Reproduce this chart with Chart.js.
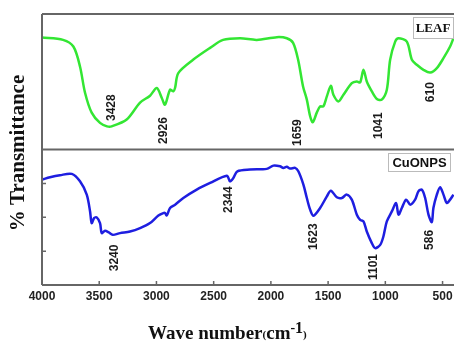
<!DOCTYPE html>
<html><head><meta charset="utf-8">
<script src="https://cdn.jsdelivr.net/npm/chart.js@4/dist/chart.umd.min.js"></script>
<style>html,body{margin:0;padding:0;background:#fff;}canvas{display:block;}</style>
</head><body>
<canvas id="c" width="454" height="342"></canvas>
<script>
// LEAF spectrum (wavenumber cm-1, % transmittance in panel units 0-100)
const leafWn = [4000,3816,3726,3668,3624,3566,3493,3432,3391,3260,3143,3056,2997,2954,2925,2881,2852,2837,2809,2680,2531,2418,2269,2123,1948,1861,1806,1762,1719,1686,1657,1634,1599,1570,1541,1511,1476,1454,1410,1366,1293,1249,1220,1191,1162,1118,1074,1031,987,958,914,885,812,768,725,667,608,550,492,434,405];
const leafT  = [82.6,80.9,76.0,61.3,41.9,27.2,19.6,17.1,17.1,22.1,34.6,39.7,45.4,38.2,33.1,44.1,42.9,45.6,56.4,66.2,75.0,80.9,82.1,80.9,82.9,82.1,78.7,66.2,46.5,36.8,24.5,20.1,27.2,31.8,31.8,39.2,47.1,40.4,35.5,40.4,49.0,50.2,49.5,58.8,50.2,42.9,37.3,36.8,44.1,66.2,79.6,82.1,79.6,66.2,62.5,58.8,56.8,60.1,67.4,76.0,82.1];
// CuONPS spectrum
const cuWn = [4000,3930,3843,3740,3668,3609,3580,3566,3545,3522,3493,3478,3449,3420,3382,3318,3231,3143,3056,2983,2940,2925,2910,2881,2837,2765,2648,2531,2385,2357,2328,2293,2182,2036,1978,1920,1891,1861,1832,1788,1760,1716,1686,1657,1628,1570,1511,1476,1424,1380,1337,1293,1249,1220,1191,1162,1118,1089,1045,1017,987,943,906,885,856,818,783,740,711,681,652,623,594,580,550,521,492,463,434,405];
const cuT  = [77.8,79.5,81.0,82.0,76.5,66.7,54.3,45.7,49.4,49.9,45.7,38.3,40.0,39.0,37.0,38.3,39.5,42.0,45.7,51.3,53.1,53.1,51.3,56.8,59.3,64.2,70.4,75.3,80.7,76.5,79.0,83.9,85.2,85.7,88.1,87.6,86.4,87.2,85.9,86.4,83.9,74.1,64.2,55.6,51.1,56.8,65.4,69.6,64.7,64.2,66.7,63.0,51.9,48.1,46.9,39.5,30.9,27.2,29.6,35.8,46.9,54.3,60.5,51.9,56.8,63.0,59.3,63.0,69.1,70.4,64.2,51.9,46.4,56.8,66.7,72.1,66.7,60.5,63.0,66.7];
// Peak annotations
const leafPeakText = ['3428','2926','1659','1041','610'];
const leafPeakWn   = [3391,2940,1762,1057,600];
const leafPeakT    = [30.9,14.0,12.5,17.6,42.3];
const cuPeakText = ['3240','2344','1623','1101','586'];
const cuPeakWn   = [3362,2372,1622,1098,614];
const cuPeakT    = [20.0,63.0,35.6,13.3,33.3];
// axis ticks
const xTickValues = [4000,3500,3000,2500,2000,1500,1000,500];
const yTickValues = [25,50,75];
const panelNames = ['LEAF','CuONPS'];

const toXY = (xs, ys) => xs.map((x, i) => ({x: x, y: ys[i]}));

const deco = {
  id: 'deco',
  afterDraw(chart) {
    const ctx = chart.ctx, a = chart.chartArea;
    const xs = chart.scales.x, yL = chart.scales.yLeaf, yC = chart.scales.yCu;
    ctx.save();
    // frame
    ctx.strokeStyle = '#666';
    ctx.lineWidth = 2;
    ctx.beginPath();
    ctx.moveTo(a.left, a.top); ctx.lineTo(a.right + 2, a.top);
    ctx.moveTo(a.left, a.top); ctx.lineTo(a.left, a.bottom);
    ctx.moveTo(a.left, a.bottom); ctx.lineTo(a.right + 2, a.bottom);
    ctx.moveTo(a.left, yL.bottom); ctx.lineTo(a.right + 2, yL.bottom);
    ctx.stroke();
    // ticks (inside)
    ctx.lineWidth = 1.5;
    ctx.beginPath();
    xTickValues.forEach(v => {
      const px = xs.getPixelForValue(v);
      ctx.moveTo(px, a.bottom); ctx.lineTo(px, a.bottom - 4);
    });
    yTickValues.forEach(v => {
      const py = yC.getPixelForValue(v);
      ctx.moveTo(a.left, py); ctx.lineTo(a.left + 4, py);
    });
    ctx.stroke();
    // peak labels
    ctx.fillStyle = '#1a1a1a';
    ctx.font = 'bold 12px "Liberation Sans", Arial, sans-serif';
    ctx.textAlign = 'center';
    ctx.textBaseline = 'middle';
    const drawPeaks = (txt, wn, t, sc) => {
      txt.forEach((s, i) => {
        ctx.save();
        ctx.translate(xs.getPixelForValue(wn[i]), sc.getPixelForValue(t[i]));
        ctx.rotate(-Math.PI / 2);
        ctx.fillText(s, 0, 0);
        ctx.restore();
      });
    };
    drawPeaks(leafPeakText, leafPeakWn, leafPeakT, yL);
    drawPeaks(cuPeakText, cuPeakWn, cuPeakT, yC);
    // panel name boxes
    ctx.strokeStyle = '#bbb';
    ctx.lineWidth = 1;
    ctx.fillStyle = '#fff';
    ctx.fillRect(413.5, 17.5, 40, 21); ctx.strokeRect(413.5, 17.5, 40, 21);
    ctx.fillRect(388.5, 153.5, 62, 18); ctx.strokeRect(388.5, 153.5, 62, 18);
    ctx.fillStyle = '#111';
    ctx.font = 'bold 13px "Liberation Serif", "Times New Roman", serif';
    ctx.fillText(panelNames[0], 433, 28.5);
    ctx.font = 'bold 13px "Liberation Sans", Arial, sans-serif';
    ctx.fillText(panelNames[1], 419.5, 163);
    // y title
    ctx.save();
    ctx.translate(19, 153);
    ctx.rotate(-Math.PI / 2);
    ctx.font = 'bold 21px "Liberation Serif", "Times New Roman", serif';
    ctx.fillStyle = '#111';
    ctx.fillText('% Transmittance', 0, 0);
    ctx.restore();
    // x title
    ctx.textAlign = 'left';
    ctx.textBaseline = 'alphabetic';
    let x = 148;
    const base = 339;
    const part = (s, font, dy) => {
      ctx.font = font;
      ctx.fillText(s, x, base + dy);
      x += ctx.measureText(s).width;
    };
    ctx.fillStyle = '#111';
    part('Wave number', 'bold 19px "Liberation Serif", "Times New Roman", serif', 0);
    part('(', 'bold 11px "Liberation Serif", serif', -1);
    part('cm', 'bold 19px "Liberation Serif", "Times New Roman", serif', 0);
    part('-', 'bold 14px "Liberation Serif", serif', -7);
    part('1', 'bold 16px "Liberation Serif", serif', -6);
    part(')', 'bold 11px "Liberation Serif", serif', -1);
    ctx.restore();
  }
};

const hiddenY = (extra) => Object.assign({
  type: 'linear', position: 'left', stack: 'panels', stackWeight: 1,
  min: 0, max: 100, display: true,
  ticks: {display: false}, grid: {display: false, drawTicks: false}, border: {display: false}
}, extra);

new Chart(document.getElementById('c'), {
  type: 'line',
  data: {
    datasets: [
      {label: 'CuONPS', data: toXY(cuWn, cuT), yAxisID: 'yCu', borderColor: '#1e1ee0', borderWidth: 2.5, pointRadius: 0, tension: 0.3, fill: false},
      {label: 'LEAF', data: toXY(leafWn, leafT), yAxisID: 'yLeaf', borderColor: '#33e633', borderWidth: 2.5, pointRadius: 0, tension: 0.3, fill: false}
    ]
  },
  options: {
    responsive: false,
    animation: false,
    layout: {padding: {left: 42, top: 14, right: 0, bottom: 0}},
    plugins: {legend: {display: false}, tooltip: {enabled: false}},
    scales: {
      x: {
        type: 'linear', min: 400, max: 4000, reverse: true,
        grid: {display: false, drawTicks: false}, border: {display: false},
        ticks: {autoSkip: false, maxRotation: 0, padding: 4,
                callback: (v) => String(v),
                color: '#222', font: {family: '"Liberation Sans", Arial, sans-serif', size: 12, weight: 'bold'}},
        afterBuildTicks(s) { s.ticks = xTickValues.map(v => ({value: v})); },
        afterFit(s) { s.height = 57; s.paddingRight = 0; s.paddingLeft = 0; }
      },
      yCu: hiddenY({weight: 0}),
      yLeaf: hiddenY({weight: 0})
    }
  },
  plugins: [deco]
});
</script>
</body></html>
